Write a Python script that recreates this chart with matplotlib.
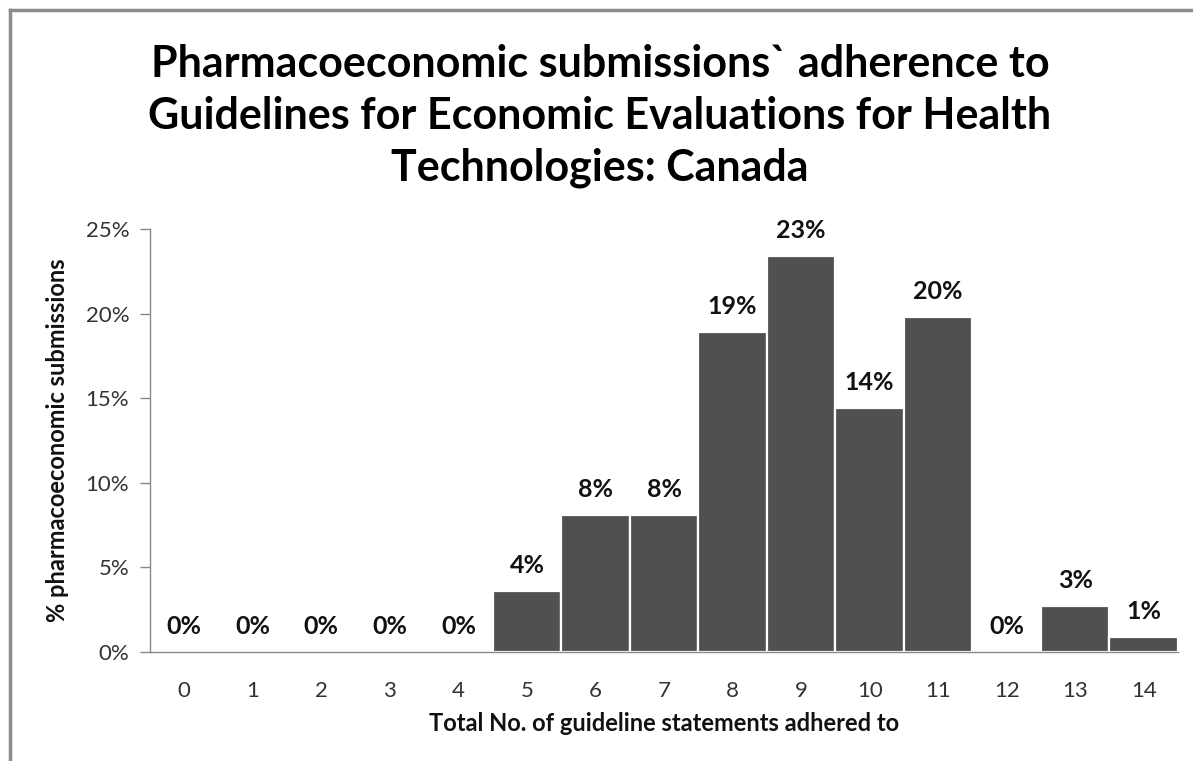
import matplotlib.pyplot as plt
from matplotlib.lines import Line2D

# Share of submissions by number of guideline statements adhered to (n = 111)
statements = list(range(15))
share = [0.0, 0.0, 0.0, 0.0, 0.0, 0.036, 0.081, 0.081, 0.189, 0.234,
         0.144, 0.198, 0.0, 0.027, 0.009]
y_ticks = [0.0, 0.05, 0.10, 0.15, 0.20, 0.25]

title = ("Pharmacoeconomic submissions` adherence to\n"
         "Guidelines for Economic Evaluations for Health\n"
         "Technologies: Canada")

plt.rcParams["font.family"] = ["Lato", "DejaVu Sans"]

fig = plt.figure(figsize=(11.93, 7.61), dpi=100)
ax = fig.add_axes([150 / 1193, 1 - 652 / 761, 1028 / 1193, 423 / 761])

bars = ax.bar(statements, share, width=1.0, color="#505050",
              edgecolor="white", linewidth=1.6, zorder=2)

for b, v in zip(bars, share):
    ax.annotate(f"{v * 100:.0f}%", (b.get_x() + b.get_width() / 2, v),
                xytext=(0, 10), textcoords="offset points",
                ha="center", va="bottom", fontsize=18, fontweight="bold",
                color="#111111")

ax.set_xlim(-0.5, 14.5)
ax.set_ylim(0, 0.25)
ax.set_xticks(statements)
ax.set_yticks(y_ticks)
ax.set_yticklabels([f"{t * 100:.0f}%" for t in y_ticks])
ax.tick_params(axis="x", length=0, pad=21, labelsize=16, labelcolor="#333333")
ax.tick_params(axis="y", length=7, width=1, color="#888888", pad=8,
               labelsize=16, labelcolor="#333333")

for side in ("top", "right"):
    ax.spines[side].set_visible(False)
for side in ("left", "bottom"):
    ax.spines[side].set_color("#888888")
    ax.spines[side].set_linewidth(1)

ax.set_xlabel("Total No. of guideline statements adhered to", fontsize=17,
              fontweight="bold", color="#111111", labelpad=8)
ax.set_ylabel("% pharmacoeconomic submissions", fontsize=17,
              fontweight="bold", color="#111111", labelpad=12)

fig.text(600 / 1193, 1 - 116 / 761, title, ha="center", va="center",
         fontsize=31, fontweight="bold", linespacing=1.36, color="#000000")

# chart frame, cut off at the right and bottom of the canvas
frame = dict(color="#8c8c8c", linewidth=2.5, transform=fig.transFigure)
fig.add_artist(Line2D([10 / 1193, 1], [1 - 10 / 761] * 2, **frame))
fig.add_artist(Line2D([10 / 1193] * 2, [0, 1 - 10 / 761], **frame))

fig.savefig("out.png", dpi=100)
